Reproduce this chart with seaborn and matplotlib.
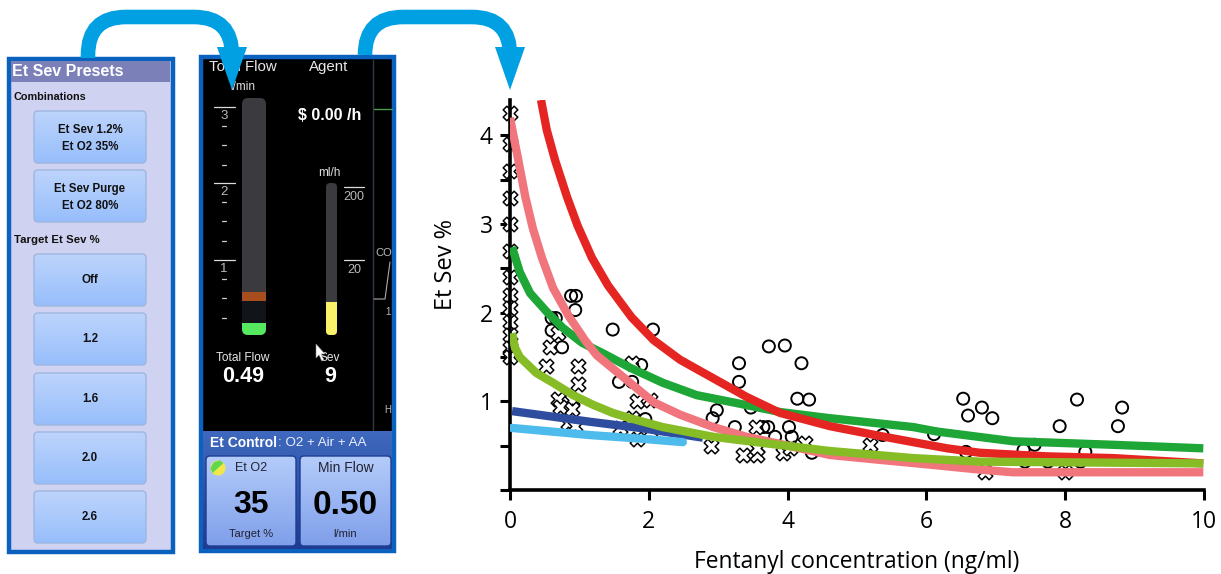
import numpy as np
import pandas as pd
import matplotlib
matplotlib.use("Agg")
import matplotlib.pyplot as plt
import seaborn as sns
from matplotlib.colors import LinearSegmentedColormap
from matplotlib.patches import FancyBboxPatch, PathPatch, Polygon, Rectangle
from matplotlib.path import Path

# Scatter data
circle_x = [0.88, 0.95, 0.94, 0.60, 0.66, 0.60, 0.75, 1.48, 2.06, 1.57, 1.76, 1.76, 1.89, 1.95,
            2.92, 2.98, 3.30, 3.30, 3.73, 3.96, 4.20, 4.14, 4.31, 3.47, 3.24, 3.65, 3.72, 3.82,
            4.02, 4.06, 5.37, 6.11, 6.53, 6.60, 6.80, 6.95, 6.57, 7.40, 7.56, 7.92, 8.17, 8.29,
            8.76, 8.82, 7.42, 7.75, 8.22, 4.35]
circle_y = [2.19, 2.19, 2.03, 1.94, 1.94, 1.80, 1.61, 1.81, 1.81, 1.22, 1.22, 1.41, 1.41, 0.80,
            0.81, 0.90, 1.43, 1.22, 1.62, 1.63, 1.43, 1.03, 1.02, 0.93, 0.71, 0.71, 0.71, 0.60,
            0.71, 0.60, 0.62, 0.63, 1.03, 0.84, 0.93, 0.81, 0.43, 0.45, 0.51, 0.72, 1.02, 0.43,
            0.72, 0.93, 0.32, 0.32, 0.32, 0.42]
cross_x = [0, 0, 0, 0, 0, 0, 0, 0, 0, 0, 0, 0, 0,
           0.58, 0.52, 0.98, 0.98, 0.69, 0.89, 0.72, 0.89, 0.84, 0.94, 0.69,
           1.76, 1.83, 2.02, 1.76, 1.58, 1.83, 2.02, 2.90, 3.54, 3.36, 3.56, 3.56, 3.93,
           5.19, 4.25, 4.03, 6.84, 8.00]
cross_y = [4.25, 3.90, 3.60, 3.30, 3.00, 2.70, 2.40, 2.20, 2.05, 1.90, 1.75, 1.60, 1.50,
           1.61, 1.40, 1.40, 1.20, 1.03, 1.02, 0.94, 0.91, 0.76, 0.72, 1.77,
           1.43, 1.00, 1.02, 0.81, 0.70, 0.58, 0.65, 0.50, 0.71, 0.40, 0.40, 0.47, 0.42,
           0.51, 0.53, 0.47, 0.20, 0.20]

# Fitted curves
red_x = [0.447, 0.53, 0.65, 0.82, 0.975, 1.18, 1.41, 1.75, 2.07, 2.45, 2.93, 3.41, 3.89, 4.61,
         5.33, 5.81, 6.30, 6.77, 7.73, 8.69, 9.99]
red_y = [4.40, 4.06, 3.72, 3.31, 2.98, 2.62, 2.31, 1.95, 1.69, 1.47, 1.26, 1.05, 0.87, 0.72,
         0.61, 0.54, 0.47, 0.42, 0.38, 0.36, 0.30]
pink_x = [0.0, 0.12, 0.22, 0.33, 0.46, 0.62, 0.84, 1.08, 1.25, 1.73, 2.07, 2.45, 2.93, 3.41,
          3.89, 4.61, 5.33, 6.00, 6.77, 7.25, 9.99]
pink_y = [4.20, 3.72, 3.31, 2.95, 2.62, 2.28, 1.97, 1.69, 1.52, 1.21, 0.99, 0.85, 0.71, 0.60,
          0.52, 0.395, 0.34, 0.29, 0.23, 0.20, 0.20]
green_x = [0.03, 0.14, 0.29, 0.53, 0.76, 1.04, 1.37, 1.73, 2.20, 2.69, 3.27, 3.89, 4.61, 5.33,
           5.81, 6.15, 7.25, 8.69, 9.99]
green_y = [2.74, 2.46, 2.22, 2.01, 1.83, 1.66, 1.53, 1.38, 1.21, 1.07, 0.98, 0.88, 0.81, 0.75,
           0.71, 0.66, 0.55, 0.51, 0.47]
lime_x = [0.03, 0.07, 0.14, 0.38, 0.62, 0.91, 1.20, 1.48, 1.73, 2.20, 2.93, 3.65, 4.61, 5.81,
          6.77, 9.99]
lime_y = [1.77, 1.61, 1.50, 1.32, 1.21, 1.07, 0.96, 0.87, 0.81, 0.71, 0.60, 0.53, 0.44, 0.36,
          0.32, 0.30]
navy_x = [0.03, 1.15, 1.87, 2.78]
navy_y = [0.89, 0.77, 0.70, 0.59]
sky_x = [0.03, 1.15, 1.87, 2.49]
sky_y = [0.70, 0.62, 0.58, 0.54]

curve_colors = {"navy": "#2F4D9F", "sky": "#4DBBEC", "red": "#E52521",
                "pink": "#F0757C", "green": "#1EA637", "lime": "#86BC25"}

preset_labels = ["Off", "1.2", "1.6", "2.0", "2.6"]

W, H = 1221, 574
ARROW = "#00A0E3"
BORDER = "#0B62BE"
BOLD = "Liberation Sans"
BTN = LinearSegmentedColormap.from_list("btn", ["#BDD4FC", "#97BEFB"])
BTN2 = LinearSegmentedColormap.from_list("btn2", ["#B4CCFA", "#7F9FEA"])
BAR = LinearSegmentedColormap.from_list("bar", ["#3F69BE", "#1D3C92"])


def button(ax, x0, y0, x1, y1, cmap=BTN, edge="#9DB6E0"):
    """Rounded button with a vertical gradient, in pixel coordinates."""
    patch = FancyBboxPatch((x0 + 3, y0 + 3), x1 - x0 - 6, y1 - y0 - 6,
                           boxstyle="round,pad=3,rounding_size=4", fc="none", ec=edge, lw=1, zorder=3)
    ax.add_patch(patch)
    im = ax.imshow(np.linspace(0, 1, 64).reshape(-1, 1), cmap=cmap, extent=(x0, x1, y1, y0),
                   aspect="auto", zorder=2)
    im.set_clip_path(patch)


def label(ax, x, y, s, size, color="black", weight="normal", ha="center"):
    ax.text(x, y, s, fontsize=size, color=color, fontweight=weight, ha=ha, va="center",
            family=BOLD, zorder=6)


def draw_presets(ax):
    ax.add_patch(Rectangle((9, 59), 164, 493, fc="#CFD2F0", ec=BORDER, lw=3.2, zorder=1))
    ax.add_patch(Rectangle((11, 61), 159, 21, fc="#7B80B9", ec="none", zorder=2))
    label(ax, 12, 71, "Et Sev Presets", 11.5, "white", "bold", "left")
    label(ax, 14, 96.5, "Combinations", 7.8, "#111111", "bold", "left")
    label(ax, 14, 240, "Target Et Sev %", 8.2, "#111111", "bold", "left")
    button(ax, 34, 111, 146, 163)
    label(ax, 90, 130, "Et Sev 1.2%", 8.3, "#111111", "bold")
    label(ax, 90, 147, "Et O2 35%", 8.3, "#111111", "bold")
    button(ax, 34, 170, 146, 222)
    label(ax, 90, 189, "Et Sev Purge", 8.3, "#111111", "bold")
    label(ax, 90, 206, "Et O2 80%", 8.3, "#111111", "bold")
    tops = [254, 313, 373, 432, 491]
    for top, name in zip(tops, preset_labels):
        button(ax, 34, top, 146, top + 52)
        label(ax, 90, top + 26, name, 8.3, "#111111", "bold")


def draw_machine(ax):
    ax.add_patch(Rectangle((201, 57), 193, 494, fc="black", ec=BORDER, lw=3.2, zorder=1))
    ax.plot([373, 373], [60, 430], color="#2F394C", lw=1, zorder=2)
    ax.plot([374, 392], [109, 109], color="#4E9A4E", lw=1, zorder=2)
    ax.plot([374, 385, 390], [299, 299, 262], color="#AAAAAA", lw=0.8, zorder=2)
    label(ax, 243, 67, "Total Flow", 10.8, "#E8E8E8")
    label(ax, 329, 67, "Agent", 10.8, "#E8E8E8")
    label(ax, 243, 87, "l/min", 8.5, "#E0E0E0")
    label(ax, 330, 115, "$ 0.00 /h", 11.5, "white", "bold")
    label(ax, 329, 173, "ml/h", 8.5, "#E0E0E0")
    label(ax, 384, 253, "CO", 8, "#BBBBBB")
    label(ax, 388, 312, "1", 7, "#BBBBBB")
    label(ax, 388, 410, "H", 7, "#BBBBBB")
    label(ax, 243, 358, "Total Flow", 8.6, "#E8E8E8")
    label(ax, 243, 377, "0.49", 15.5, "white", "bold")
    label(ax, 330, 358, "Sev", 8.6, "#E8E8E8")
    label(ax, 330, 377, "9", 15.5, "white", "bold")
    # flow tube and its scale
    for y, s in zip([107, 183, 260], ["3", "2", "1"]):
        ax.plot([214, 235], [y, y], color="#DDDDDD", lw=0.9, zorder=3)
        label(ax, 224, y + 9, s, 9.5, "#BBBBBB")
        for k in (1, 2, 3):
            ax.plot([222, 226], [y + k * 19.2, y + k * 19.2], color="#CCCCCC", lw=0.9, zorder=3)
    tube = FancyBboxPatch((245, 101), 18, 231, boxstyle="round,pad=3,rounding_size=6",
                          fc="#3A3A3F", ec="none", zorder=2)
    ax.add_patch(tube)
    for y0, y1, col in [(300, 323, "#111418"), (292, 301, "#A84E1E"), (323, 335, "#56E85E")]:
        part = Rectangle((242, y0), 24, y1 - y0, fc=col, ec="none", zorder=3)
        ax.add_patch(part)
        part.set_clip_path(tube)
    # agent tube and its scale
    for y, s in zip([187, 260], ["200", "20"]):
        ax.plot([344, 364], [y, y], color="#DDDDDD", lw=0.9, zorder=3)
        label(ax, 354, y + 10, s, 9, "#BBBBBB")
    tube2 = FancyBboxPatch((328, 185), 7, 148, boxstyle="round,pad=2,rounding_size=4",
                           fc="#3A3A3F", ec="none", zorder=2)
    ax.add_patch(tube2)
    part = Rectangle((326, 302), 11, 33, fc="#FAF06A", ec="none", zorder=3)
    ax.add_patch(part)
    part.set_clip_path(tube2)
    # mouse pointer
    ax.add_patch(Polygon([(316, 344), (316, 358), (319, 355), (322, 361), (324, 360), (321, 354), (325, 354)],
                         fc="white", ec="#888888", lw=0.4, zorder=7))
    # control strip
    ax.imshow(np.linspace(0, 1, 64).reshape(-1, 1), cmap=BAR, extent=(203, 392, 549, 431),
              aspect="auto", zorder=2)
    ax.text(210, 443, "Et Control", fontsize=10, color="white", fontweight="bold", va="center",
            family=BOLD, zorder=6)
    ax.text(278, 443, ": O2 + Air + AA", fontsize=9.6, color="#E8EEFF", va="center", ha="left",
            family=BOLD, zorder=6)
    button(ax, 206, 456, 296, 546, BTN2, "#1D3C92")
    button(ax, 300, 456, 391, 546, BTN2, "#1D3C92")
    ax.add_patch(plt.Circle((218, 468), 7.5, fc="#F0E84A", ec="none", zorder=5))
    ax.add_patch(Polygon([(212.5, 473), (223.5, 463), (220, 460.5), (214, 462), (210.5, 468)],
                         fc="#5FD84F", ec="none", zorder=5))
    label(ax, 251, 468, "Et O2", 9, "#222233")
    label(ax, 346, 468, "Min Flow", 10, "#222233")
    label(ax, 251, 505, "35", 23, "black", "bold")
    label(ax, 345, 505, "0.50", 24, "black", "bold")
    label(ax, 251, 534, "Target %", 8, "#222233")
    label(ax, 345, 534, "l/min", 8, "#222233")


def draw_arrow(ax, x0, y0, x1, y1, top):
    """Blue rounded arrow from one panel to the next."""
    r = 38
    verts = [(x0, y0), (x0, top + r), (x0, top), (x0 + r, top), (x1 - r, top), (x1, top), (x1, top + r), (x1, y1)]
    codes = [Path.MOVETO, Path.LINETO, Path.CURVE3, Path.CURVE3, Path.LINETO, Path.CURVE3, Path.CURVE3, Path.LINETO]
    ax.add_patch(PathPatch(Path(verts, codes), fc="none", ec=ARROW, lw=10.5, capstyle="butt", zorder=8))
    ax.add_patch(Polygon([(x1 - 15, y1), (x1 + 15, y1), (x1, y1 + 43)], fc=ARROW, ec="none", zorder=8))


def long_curves():
    rows = []
    # drawn in this order, later curves lie on top
    series = [("green", green_x, green_y), ("pink", pink_x, pink_y), ("red", red_x, red_y),
              ("navy", navy_x, navy_y), ("sky", sky_x, sky_y), ("lime", lime_x, lime_y)]
    for name, xs, ys in series:
        rows.append(pd.DataFrame({"conc": xs, "sev": ys, "curve": name}))
    return rows


sns.set_theme(style="white")
plt.rcParams["font.family"] = ["Open Sans", "DejaVu Sans"]

fig = plt.figure(figsize=(W / 100, H / 100), dpi=100, facecolor="white")

ui = fig.add_axes([0, 0, 1, 1])
draw_presets(ui)
draw_machine(ui)
draw_arrow(ui, 88, 58, 232, 47, 17)
draw_arrow(ui, 365, 55, 510, 47, 17)
ui.set_xlim(0, W)
ui.set_ylim(H, 0)
ui.axis("off")

ax = fig.add_axes([510 / W, (H - 490) / H, (1204 - 510) / W, (490 - 100) / H])
ax.patch.set_alpha(0)

sns.scatterplot(x=circle_x, y=circle_y, marker="o", s=75, facecolor="none", edgecolor="black",
                linewidth=1.4, clip_on=False, zorder=2, ax=ax)
sns.scatterplot(x=cross_x, y=cross_y, marker="X", s=110, facecolor="white", edgecolor="black",
                linewidth=1.1, clip_on=False, zorder=2, ax=ax)
for df in long_curves():
    name = df["curve"].iloc[0]
    cap = "round" if name == "sky" else "butt"
    sns.lineplot(data=df, x="conc", y="sev", color=curve_colors[name], lw=6, sort=False,
                 estimator=None, zorder=3, solid_capstyle=cap, solid_joinstyle="round", ax=ax)

ax.set_xlim(0, 10)
ax.set_ylim(0, 4.4)
ax.set_xticks([0, 2, 4, 6, 8, 10])
ax.set_yticks([1, 2, 3, 4])
ax.set_yticks([0, 0.5, 1.5, 2.5, 3.5], minor=True)
ax.tick_params(axis="both", which="both", length=7.5, width=2.2, color="black", bottom=True, left=True)
ax.tick_params(axis="x", labelsize=16.5, pad=7, labelcolor="black")
ax.tick_params(axis="y", labelsize=16.5, pad=5, labelcolor="black")
ax.set_xlabel("Fentanyl concentration (ng/ml)", fontsize=16.4, labelpad=11.5, color="black")
ax.set_ylabel("Et Sev %", fontsize=17, color="black")
ax.yaxis.set_label_coords((458 - 510) / (1204 - 510), (490 - 265) / (490 - 100))
sns.despine(ax=ax)
for side in ("left", "bottom"):
    ax.spines[side].set_linewidth(2.6)
    ax.spines[side].set_color("black")

fig.savefig("out.png", dpi=100)
